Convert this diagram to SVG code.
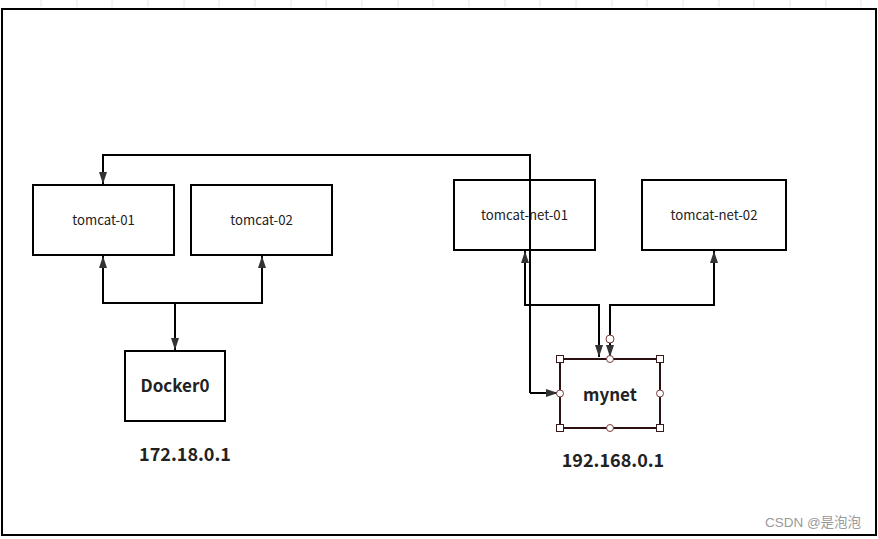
<svg xmlns="http://www.w3.org/2000/svg" width="878" height="539" viewBox="0 0 878 539">
<style>
  .box { fill: #fff; stroke: #000; stroke-width: 2; }
  .lbl { font-family: "Noto Sans CJK SC", "Noto Sans", sans-serif; font-size: 13.2px; fill: #222; text-anchor: middle; }
  .bold { font-family: "Noto Sans CJK SC", "Noto Sans", sans-serif; font-weight: bold; fill: #222; text-anchor: middle; }
  .wire { fill: none; stroke: #000; stroke-width: 2; }
  .grid { stroke: #e6e6e6; stroke-width: 1; }
  .h-sq { fill: #fff; stroke: #3a1a1a; stroke-width: 1; }
  .h-ci { fill: #fff; stroke: #7a3b3b; stroke-width: 1; }
</style>
<defs>
  <marker id="arr" viewBox="0 0 12 10" refX="12" refY="5" markerWidth="12" markerHeight="10" markerUnits="userSpaceOnUse" orient="auto">
    <path d="M0,1 L12,5 L0,9 Z" fill="#333"/>
  </marker>
</defs>
<rect width="878" height="539" fill="#fff"/>
<g id="grid">
  <path class="grid" d="M41,0V7 M77,0V7 M112,0V7 M148,0V7 M184,0V7 M219,0V7 M255,0V7 M291,0V7 M326,0V7 M362,0V7 M398,0V7 M433,0V7 M469,0V7 M505,0V7 M540,0V7 M576,0V7 M612,0V7 M647,0V7 M683,0V7 M719,0V7 M754,0V7 M790,0V7 M826,0V7 M861,0V7"/>
</g>
<rect x="2" y="9" width="874" height="526" fill="none" stroke="#000" stroke-width="2"/>
<g id="tomcat-01">
  <rect class="box" x="33" y="185" width="141" height="70"/>
  <text class="lbl" x="103.5" y="224.5">tomcat-01</text>
</g>
<g id="tomcat-02">
  <rect class="box" x="191" y="185" width="141" height="70"/>
  <text class="lbl" x="261.5" y="224.5">tomcat-02</text>
</g>
<g id="docker0">
  <rect class="box" x="125" y="351" width="100" height="70"/>
  <text class="bold" x="175" y="392" font-size="17">Docker0</text>
  <text class="bold" x="185" y="461" font-size="18">172.18.0.1</text>
</g>
<g id="tomcat-net-01">
  <rect class="box" x="454" y="180" width="141" height="70"/>
  <text class="lbl" x="524.5" y="219.5">tomcat-net-01</text>
</g>
<g id="tomcat-net-02">
  <rect class="box" x="642" y="180" width="144" height="70"/>
  <text class="lbl" x="714" y="219.5">tomcat-net-02</text>
</g>
<g id="connectors">
  <path class="wire" d="M530,393 V155 H103 V184" marker-end="url(#arr)"/>
  <path class="wire" d="M530,393 H558" marker-end="url(#arr)"/>
  <path class="wire" d="M175,303 H103 V256" marker-end="url(#arr)"/>
  <path class="wire" d="M175,303 H262 V256" marker-end="url(#arr)"/>
  <path class="wire" d="M175,303 V350" marker-end="url(#arr)"/>
  <path class="wire" d="M599,357 V305 H525 V251" marker-end="url(#arr)"/>
  <path class="wire" d="M599,305 V357" marker-end="url(#arr)"/>
  <path class="wire" d="M610,357 V305 H714 V251" marker-end="url(#arr)"/>
  <path class="wire" d="M610,305 V357" marker-end="url(#arr)"/>
</g>
<g id="mynet">
  <rect x="560" y="359" width="100" height="69" fill="#fff" stroke="#2a1010" stroke-width="2"/>
  <text class="bold" x="610" y="401" font-size="17">mynet</text>
  <rect class="h-sq" x="556.5" y="355.5" width="7" height="7"/>
  <rect class="h-sq" x="656.5" y="355.5" width="7" height="7"/>
  <rect class="h-sq" x="556.5" y="424.5" width="7" height="7"/>
  <rect class="h-sq" x="656.5" y="424.5" width="7" height="7"/>
  <circle class="h-ci" cx="610" cy="359" r="3.5"/>
  <circle class="h-ci" cx="610" cy="428" r="3.5"/>
  <circle class="h-ci" cx="560" cy="393.5" r="3.5"/>
  <circle class="h-ci" cx="660" cy="393.5" r="3.5"/>
  <circle class="h-ci" cx="610" cy="339" r="4"/>
  <text class="bold" x="613" y="467" font-size="18">192.168.0.1</text>
</g>
<text x="813" y="527" font-family="Liberation Sans, Noto Sans CJK SC, sans-serif" font-size="13.5" fill="#9a9a9a" text-anchor="middle">CSDN @是泡泡</text>
</svg>
